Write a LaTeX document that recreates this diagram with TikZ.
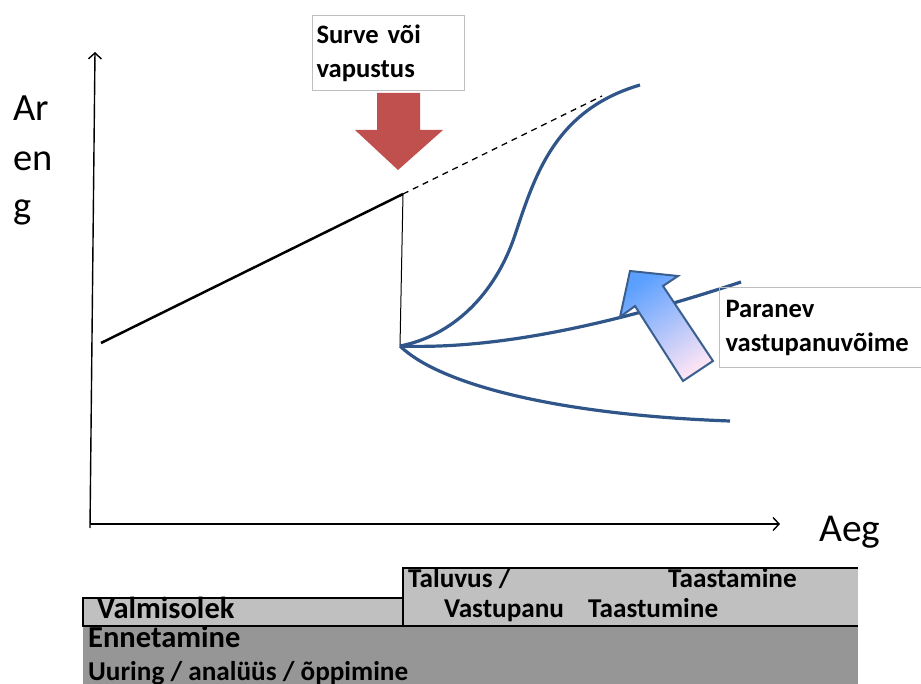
\documentclass[tikz,border=0pt]{standalone}
\usepackage{fontspec}
\setmainfont{Carlito}
\usetikzlibrary{arrows.meta, positioning}
\usepackage{xcolor}
\definecolor{kurve}{HTML}{2F5589}
\definecolor{punane}{HTML}{C0504D}
\definecolor{heleHall}{HTML}{C0C0C0}
\definecolor{tumeHall}{HTML}{969696}
\definecolor{serv}{HTML}{BFBFBF}
\definecolor{nooleServ}{HTML}{3A5F8F}

\begin{document}
\begin{tikzpicture}[
    x=1pt, y=-1pt,
    axis/.style={-{Straight Barb[length=6pt, width=13pt]}, line width=1.4pt},
    curve/.style={kurve, line width=3.2pt},
    word/.style={anchor=base west, inner sep=0pt, font=\fontsize{27.2}{34}\selectfont\bfseries},
    big/.style={anchor=base west, inner sep=0pt, font=\fontsize{38.5}{49}\selectfont},
    box/.style={draw=serv, line width=1pt, anchor=north west, align=left, inner xsep=4pt, font=\fontsize{26.6}{34}\selectfont\bfseries},
    bar/.style={draw=black, line width=2pt}
]
\useasboundingbox (0,0) rectangle (921,684);

% teljed
\coordinate (ybot) at (90,528);
\coordinate (ytip) at (95,52);
\coordinate (o) at (90,524);
\coordinate (xtip) at (780,524);
\draw[axis] (ybot) -- (ytip);
\draw[axis] (o) -- (xtip);

\node[big] (ar) at (13,121) {Ar};
\node[big] (en) at (13,171) {en};
\node[big] (g) at (13,219) {g};
\node[big, font=\fontsize{39.5}{49}\selectfont] (aeg) at (819,541) {Aeg};

% areng enne vapustust
\coordinate (start) at (101,343);
\coordinate (shock) at (403,194);
\coordinate (trend) at (602,96);
\coordinate (dip) at (400,346);
\draw[line width=2.5pt] (start) -- (shock);
\draw[line width=1.3pt, dash pattern=on 6pt off 5pt] (shock) -- (trend);
\draw[line width=1pt] (shock) -- (dip);

% kolm kulgu
\coordinate (high) at (640,85);
\coordinate (mid) at (741,282);
\coordinate (low) at (730,421);
\draw[curve] (dip) .. controls (452,336) and (495,295) .. (515,235)
    .. controls (535,175) and (555,110) .. (high);
\draw[curve] (dip) .. controls (500,350) and (620,322) .. (mid);
\draw[curve] (dip) .. controls (440,385) and (560,415) .. (low);

% nooled
\fill[punane] (377,93) -- (420,93) -- (420,130) -- (443,130) -- (398,170)
    -- (355,130) -- (377,130) -- cycle;
\draw[nooleServ, line width=2pt, shading=axis, top color={rgb,255:red,92;green,160;blue,255},
    bottom color={rgb,255:red,252;green,228;blue,245}, shading angle=34]
    (630,271) -- (678,276) -- (663,286) -- (713,361) -- (683,381) -- (635,306) -- (620,317) -- cycle;

\node[box, minimum width=152pt, minimum height=75pt, text width=144pt] (surve) at (312,15) {Surve või\\vapustus};
\node[box, minimum height=80pt, text width=240pt, inner xsep=6pt] (paranev) at (719,287) {Paranev\\vastupanuvõime};

% ribad all
\fill[tumeHall] (83,626) rectangle (858,684);
\fill[heleHall] (403,568) rectangle (858,626);
\draw[bar] (858,568) -- (403,568) -- (403,626) -- (858,626);
\draw[bar, fill=heleHall] (83,598) rectangle (403,626);

\node[word, font=\fontsize{30.5}{34}\selectfont\bfseries] (valmisolek) at (97,618) {Valmisolek};
\node[word, font=\fontsize{30.5}{34}\selectfont\bfseries] (ennetamine) at (88,647) {Ennetamine};
\node[word] (uuring) at (88,680) {Uuring / analüüs / õppimine};
\node[word] (taluvus) at (408,587) {Taluvus /};
\node[word] (taastamine) at (668,587) {Taastamine};
\node[word] (vastupanu) at (444,617) {Vastupanu};
\node[word] (taastumine) at (588,617) {Taastumine};

\end{tikzpicture}
\end{document}
